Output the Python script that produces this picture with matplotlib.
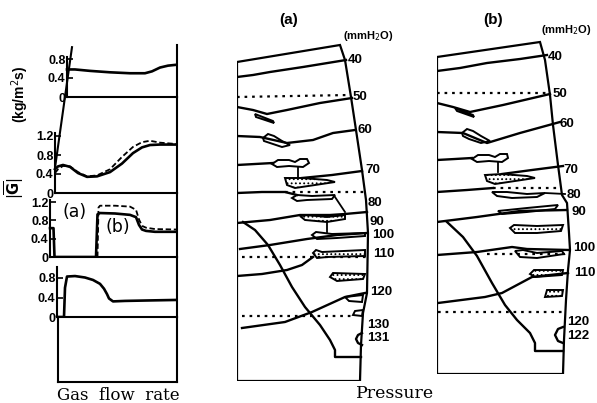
import matplotlib
matplotlib.use("Agg")
import matplotlib.pyplot as plt
from matplotlib.patches import Polygon

W, H = 597, 403
fig = plt.figure(figsize=(W / 100, H / 100), dpi=100)
fig.patch.set_facecolor("white")

NUM_FONT = dict(family="Liberation Sans", fontweight="bold")

# ---------------- left: gas flow rate traces ----------------
# x: position along the gas-flow trace (arbitrary units), y: |G| (kg/m2s)
g1_x = [67, 75, 90, 110, 130, 145, 152, 160, 168, 177]
g1_y = [0.58, 0.58, 0.55, 0.52, 0.50, 0.50, 0.54, 0.62, 0.66, 0.68]

g2_x = [55, 58, 63, 70, 78, 87, 97, 110, 122, 133, 142, 150, 160, 177]
g2_solid = [0.50, 0.56, 0.59, 0.55, 0.42, 0.34, 0.35, 0.44, 0.62, 0.84, 0.96, 1.01, 1.02, 1.02]
g2_dash = [0.42, 0.50, 0.57, 0.56, 0.44, 0.35, 0.37, 0.50, 0.76, 0.97, 1.07, 1.10, 1.06, 1.03]

g3_x = [50, 53.5, 54.5, 96, 97.5, 100, 115, 130, 136, 139, 142, 146, 155, 177]
g3_solid = [0.63, 0.63, 0, 0, 0.93, 0.96, 0.95, 0.92, 0.87, 0.70, 0.60, 0.57, 0.55, 0.55]
g3d_x = [97.5, 98.5, 100, 115, 130, 136, 139, 142, 146, 155, 177]
g3_dash = [0.0, 1.08, 1.12, 1.12, 1.10, 1.03, 0.82, 0.68, 0.64, 0.61, 0.60]

g4_x = [57, 64, 65, 67, 75, 85, 93, 100, 104, 107, 109, 113, 125, 150, 177]
g4_y = [0, 0, 0.6, 0.83, 0.84, 0.81, 0.76, 0.68, 0.58, 0.47, 0.38, 0.32, 0.33, 0.34, 0.35]

# slanted drafting stroke joining the top two traces (in panel-2 units)
stroke_x = [72, 55]
stroke_y = [3.07, 0.53]


def px_axes(x0, y0, x1, y1):
    return fig.add_axes([x0 / W, 1 - y1 / H, (x1 - x0) / W, (y1 - y0) / H])


# (top px, bottom px, px per unit, left spine x, spine top, ticks)
panels = [
    (45, 97, 47.5, 67, 0.84, [0, 0.4, 0.8]),
    (97, 193, 47.5, 55, 1.27, [0, 0.4, 0.8, 1.2]),
    (193, 257, 45.8, 50, 1.25, [0, 0.4, 0.8, 1.2]),
    (257, 317, 48.75, 57, 1.03, [0, 0.4, 0.8]),
    (317, 382, 48.0, 58, None, []),
]
axes_left = []
for top, bot, scale, lx, stop, ticks in panels:
    ax = px_axes(40, top, 177, bot)
    ax.set_xlim(40, 177)
    ymax = (bot - top) / scale
    ax.set_ylim(0, ymax)
    ax.patch.set_alpha(0)
    ax.spines["top"].set_visible(False)
    ax.spines["left"].set_position(("data", lx))
    ax.spines["left"].set_bounds(0, stop if stop is not None else ymax)
    ax.spines["bottom"].set_bounds(lx, 177)
    for s in ax.spines.values():
        s.set_linewidth(1.5)
    ax.set_xticks([])
    ax.set_yticks(ticks)
    ax.set_yticklabels(["0" if t == 0 else f"{t:.1f}" for t in ticks],
                       fontsize=9, **NUM_FONT)
    ax.tick_params(axis="y", direction="in", length=4, width=1.2, pad=1)
    axes_left.append(ax)

LW = 1.9
axes_left[0].plot(g1_x, g1_y, color="black", lw=LW)
axes_left[1].plot(g2_x, g2_solid, color="black", lw=LW)
axes_left[1].plot(g2_x, g2_dash, color="black", lw=1.3, ls=(0, (3, 1.5)))
axes_left[1].plot(stroke_x, stroke_y, color="black", lw=1.5, clip_on=False)
axes_left[2].plot(g3_x, g3_solid, color="black", lw=LW)
axes_left[2].plot(g3d_x, g3_dash, color="black", lw=1.3, ls=(0, (3, 1.5)))
axes_left[3].plot(g4_x, g4_y, color="black", lw=LW)
axes_left[2].text(75, 0.98, "(a)", fontsize=12.5, family="DejaVu Sans", ha="center", va="center")
axes_left[2].text(118, 0.66, "(b)", fontsize=12.5, family="DejaVu Sans", ha="center", va="center")

fig.text(20 / W, 1 - 94 / H, "(kg/m$^2$s)", rotation=90, fontsize=10,
         ha="center", va="center", **NUM_FONT)
fig.text(14 / W, 1 - 188 / H, r"$|\overline{\mathbf{G}}|$", rotation=90, fontsize=10.5,
         ha="center", va="center")
fig.text(118 / W, 1 - 395 / H, "Gas  flow  rate", fontsize=12,
         family="DejaVu Serif", ha="center", va="center")
fig.text(395 / W, 1 - 394 / H, "Pressure", fontsize=12.5,
         family="DejaVu Serif", ha="center", va="center")

# ---------------- right: pressure contour sketches ----------------
# local coordinates: X = horizontal position in bed, Y = height above bottom
A_outline = [(0, 0), (0, 319), (103, 336), (108, 321), (114, 284), (119, 251),
             (125, 211), (129, 181), (131, 148), (130, 88), (126, 68), (124, 36), (123, 0)]
A_lines = [
    [(0, 304), (16, 306), (33, 309), (66, 314), (109, 321)],
    [(0, 274), (16, 271), (30, 267), (50, 271), (83, 278), (115, 283)],
    [(0, 245), (23, 244), (50, 238), (76, 241), (96, 248), (118, 251)],
    [(0, 216), (18, 217), (36, 218)],
    [(61, 214), (61, 204)],
    [(65, 203), (95, 206), (125, 210)],
    [(0, 188), (25, 189), (48, 189), (60, 186)],
    [(98, 184), (108, 169)],
    [(0, 158), (33, 161), (63, 166), (93, 166), (108, 167), (130, 169)],
    [(90, 159), (90, 149)],
    [(3, 132), (33, 136), (70, 142), (100, 146), (130, 148)],
    [(0, 105), (25, 107), (50, 111), (65, 116), (76, 124)],
    [(5, 53), (48, 59), (75, 69), (108, 84), (128, 88)],
    [(6, 159), (18, 151), (31, 136), (43, 116), (55, 94), (68, 74), (83, 56),
     (93, 41), (98, 31), (98, 24), (124, 24)],
    [(125, 48), (121, 46), (119, 42), (121, 38), (125, 36)],
]
A_dotted = [
    [(0, 284), (113, 286)],
    [(48, 189), (127, 189)],
    [(5, 124), (129, 124)],
    [(5, 65), (118, 65)],
]
A_blobs = [
    [(18, 267), (36, 260), (37, 258), (19, 264)],
    [(26, 243), (31, 247), (37, 245), (45, 240), (53, 236), (45, 234), (33, 238), (27, 240)],
    [(35, 217), (41, 221), (52, 221), (58, 219), (63, 222), (70, 222), (72, 218),
     (66, 214), (52, 215), (40, 214)],
    [(55, 183), (60, 186), (75, 185), (98, 186), (95, 182), (70, 181), (60, 180)],
    [(75, 146), (79, 149), (95, 147), (128, 148), (128, 145), (100, 143), (80, 142)],
    [(108, 84), (112, 80), (125, 79), (126, 86)],
    [(116, 66), (118, 70), (126, 71), (125, 65)],
]
A_stipple = [
    [(48, 203), (50, 196), (58, 193), (98, 199), (90, 201), (65, 203)],
    [(63, 165), (68, 161), (90, 159), (108, 162), (108, 166), (90, 164), (70, 166)],
    [(76, 128), (79, 131), (85, 129), (128, 131), (128, 125), (90, 124), (80, 123)],
    [(93, 104), (96, 108), (128, 107), (126, 102), (100, 100)],
]
A_labels = ["40", "50", "60", "70", "80", "90", "100", "110", "120", "130", "131"]
A_label_xy = [(111, 321), (116, 284), (121, 251), (128, 211), (131, 178), (133, 159),
              (135, 146), (136, 127), (133, 89), (130, 56), (130, 43)]

B_outline = [(0, 0), (0, 317), (103, 332), (108, 314), (113, 279), (116, 249),
             (121, 209), (125, 179), (130, 171), (132, 141), (133, 124), (131, 104),
             (129, 74), (127, 34), (126, 0)]
B_lines = [
    [(0, 303), (23, 306), (50, 311), (83, 315), (110, 319)],
    [(0, 271), (16, 267), (33, 262), (66, 269), (113, 280)],
    [(0, 242), (26, 241), (50, 231), (83, 241), (123, 252)],
    [(0, 214), (18, 215), (35, 216)],
    [(61, 212), (61, 202)],
    [(65, 200), (95, 204), (126, 208)],
    [(0, 182), (30, 184), (56, 186)],
    [(108, 181), (128, 180)],
    [(0, 152), (40, 157), (83, 163), (130, 164)],
    [(0, 119), (40, 122), (75, 127), (90, 125), (132, 124)],
    [(1, 71), (48, 77), (65, 81), (95, 97), (131, 101)],
    [(10, 152), (26, 137), (40, 118), (55, 91), (68, 69), (80, 54), (93, 41),
     (98, 31), (98, 23), (126, 23)],
    [(126, 47), (121, 45), (118, 39), (121, 33), (126, 31)],
]
B_dotted = [
    [(0, 281), (113, 281)],
    [(56, 186), (125, 186)],
    [(50, 120), (128, 120)],
    [(1, 62), (127, 62)],
]
B_blobs = [
    [(18, 266), (36, 259), (37, 257), (20, 263)],
    [(25, 241), (30, 245), (36, 243), (44, 238), (53, 233), (44, 231), (32, 235), (26, 238)],
    [(35, 215), (41, 219), (52, 219), (58, 217), (63, 220), (70, 220), (71, 216),
     (65, 212), (52, 213), (40, 212)],
    [(55, 182), (60, 178), (75, 176), (100, 177), (108, 181), (90, 180), (70, 182)],
    [(61, 163), (90, 166), (121, 169), (118, 165), (90, 162), (65, 160)],
    [(78, 123), (83, 117), (100, 116), (127, 120), (125, 123), (100, 121), (86, 124)],
]
B_stipple = [
    [(48, 199), (50, 193), (58, 190), (98, 196), (90, 198), (65, 200)],
    [(73, 146), (77, 149), (100, 148), (126, 149), (124, 143), (100, 141), (78, 141)],
    [(93, 100), (97, 104), (126, 104), (125, 99), (98, 97)],
    [(108, 77), (110, 84), (126, 84), (125, 78)],
]
B_labels = ["40", "50", "60", "70", "80", "90", "100", "110", "120", "122"]
B_label_xy = [(111, 317), (116, 280), (123, 250), (126, 204), (130, 179), (135, 162),
              (136, 126), (137, 101), (130, 52), (130, 38)]


def draw_diagram(x0, y_bottom, width, outline, lines, dotted, blobs, stipple,
                 labels, label_xy, title, title_xy, unit_xy):
    ax = px_axes(x0, 0, x0 + width, y_bottom)
    ax.set_xlim(0, width)
    ax.set_ylim(0, y_bottom)
    ax.set_axis_off()
    ox, oy = zip(*(outline + [outline[0]]))
    ax.plot(ox, oy, color="black", lw=1.6, solid_joinstyle="miter")
    for ln in lines:
        xs, ys = zip(*ln)
        ax.plot(xs, ys, color="black", lw=1.7 if len(ln) > 2 else 1.3)
    for ln in dotted:
        xs, ys = zip(*ln)
        ax.plot(xs, ys, color="black", lw=1.6, ls=(0, (1.2, 2.2)))
    for pg in blobs:
        ax.add_patch(Polygon(pg, closed=True, facecolor="white",
                             edgecolor="black", lw=1.4))
    for pg in stipple:
        ax.add_patch(Polygon(pg, closed=True, facecolor="white",
                             edgecolor="black", lw=1.4, hatch="...."))
    for lab, (lx, ly) in zip(labels, label_xy):
        ax.text(lx, ly, lab, fontsize=9.5, ha="left", va="center", **NUM_FONT)
    ax.text(title_xy[0], title_xy[1], title, fontsize=11, ha="center",
            va="center", **NUM_FONT)
    ax.text(unit_xy[0], unit_xy[1], "(mmH$_2$O)", fontsize=8, ha="center",
            va="center", **NUM_FONT)
    return ax


plt.rcParams["hatch.linewidth"] = 0.8
draw_diagram(237, 381, 160, A_outline, A_lines, A_dotted, A_blobs, A_stipple,
             A_labels, A_label_xy, "(a)", (52, 361), (131, 345))
draw_diagram(437, 374, 160, B_outline, B_lines, B_dotted, B_blobs, B_stipple,
             B_labels, B_label_xy, "(b)", (56, 354), (129, 344))

fig.savefig("out.png", dpi=100, facecolor="white")
